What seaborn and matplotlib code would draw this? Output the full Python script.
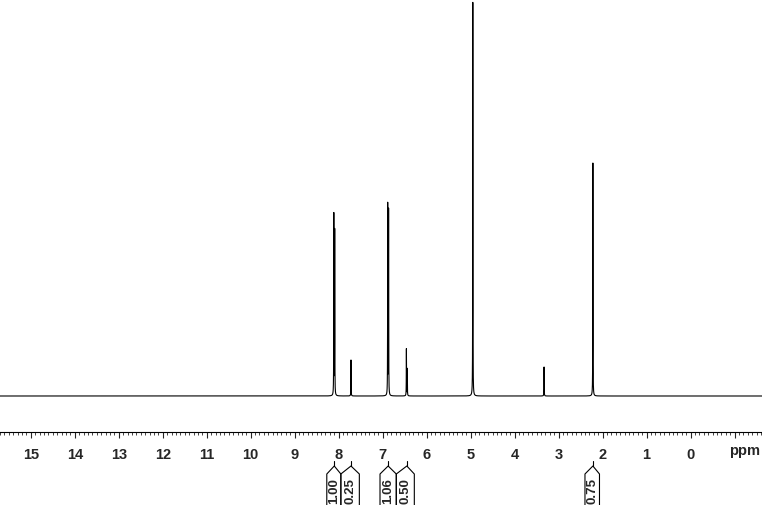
import numpy as np
import pandas as pd
import seaborn as sns
import matplotlib.pyplot as plt
from matplotlib import transforms

# peak list (ppm, height in px above baseline)
peak_ppm = [8.110, 8.090, 7.720, 6.885, 6.865, 6.460, 6.440, 4.950, 3.330, 2.220]
peak_height = [181, 165, 36, 191, 185, 47, 27, 394, 29, 233]
peak_hwhm = 0.0025

# integrals: value, stem position, label box edges (ppm)
integral_values = ["1.00", "0.25", "1.06", "0.50", "0.75"]
integral_center = [8.10, 7.72, 6.875, 6.45, 2.22]
integral_left = [8.27, 7.95, 7.06, 6.69, 2.40]
integral_right = [7.95, 7.53, 6.69, 6.28, 2.07]

major_ticks = list(range(15, -2, -1))
tick_labels = [str(t) for t in major_ticks[:-1]] + [""]

x_left, x_right = 15.70, -1.625
ppm = np.linspace(x_left, x_right, 100000)
intensity = np.zeros_like(ppm)
for c, h in zip(peak_ppm, peak_height):
    intensity += h * peak_hwhm**2 / ((ppm - c)**2 + peak_hwhm**2)
df = pd.DataFrame({"ppm": ppm, "intensity": intensity})

sns.set_style("white")
plt.rcParams["font.family"] = ["Liberation Sans", "DejaVu Sans"]

W, H = 762, 506
fig = plt.figure(figsize=(W / 100, H / 100), dpi=100)
ax = fig.add_axes([0, 1 - 433 / H, 1, 433 / H])
sns.lineplot(data=df, x="ppm", y="intensity", color="black", lw=0.8,
             estimator=None, sort=False, ax=ax)
ax.set_xlim(x_left, x_right)
ax.set_ylim(-36, 397)
for s in ["top", "left", "right"]:
    ax.spines[s].set_visible(False)
ax.spines["bottom"].set_linewidth(0.8)
ax.spines["bottom"].set_color("black")
ax.set_yticks([])
ax.set_xticks(major_ticks)
ax.set_xticklabels(tick_labels, fontsize=10.5, fontweight="bold")
ax.set_xticks(np.arange(-1.6, 15.71, 0.1), minor=True)
ax.tick_params(axis="x", which="major", length=4, width=0.8, pad=6.5, direction="out", bottom=True)
ax.tick_params(axis="x", which="minor", length=2, width=0.6, direction="out", bottom=True)
ax.set_xlabel("")
ax.set_ylabel("")
trans_ppm = transforms.blended_transform_factory(ax.transData, fig.transFigure)
fig.text(745 / W, 1 - 451 / H, "ppm", ha="center", va="center", fontsize=10.5, fontweight="bold")

def fy(py):
    return 1 - py / H

for val, c, l, r in zip(integral_values, integral_center, integral_left, integral_right):
    ax.plot([c, c], [fy(462), fy(467)], color="black", lw=0.8, transform=trans_ppm, clip_on=False)
    ax.plot([l, l, c, r, r], [fy(506), fy(475), fy(467), fy(475), fy(506)],
            color="black", lw=0.8, transform=trans_ppm, clip_on=False)
    ax.text((l + r) / 2, fy(491), val, rotation=90, ha="center", va="center",
            fontsize=9.5, fontweight="bold", transform=trans_ppm)

fig.savefig("out.png", dpi=100)
